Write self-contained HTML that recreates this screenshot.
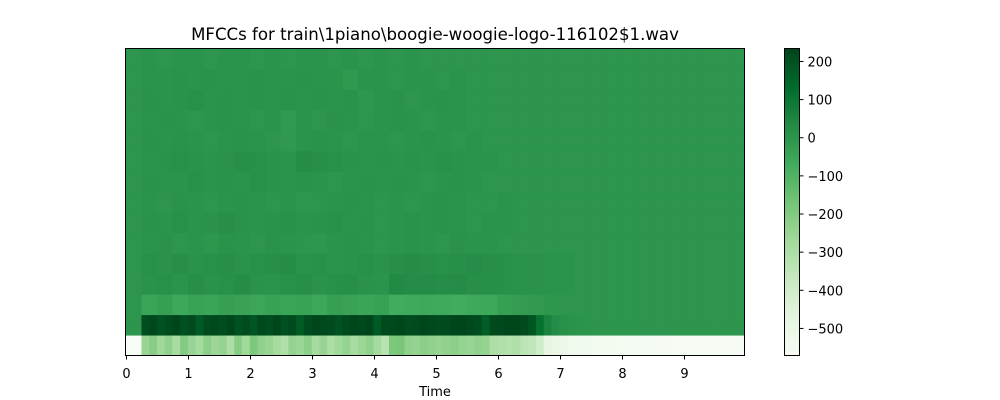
<!DOCTYPE html>
<html><head><meta charset="utf-8"><style>
body{margin:0;background:#fff;}
svg{display:block;font-family:"DejaVu Sans","Liberation Sans",sans-serif;}
</style></head><body>
<svg id="chart" width="1000" height="400">
<text x="435" y="40" font-size="16.6" text-anchor="middle">MFCCs for train\1piano\boogie-woogie-logo-116102$1.wav</text>
<g id="heat"></g>
<rect x="125.5" y="48.5" width="619" height="307" fill="none" stroke="#000" stroke-width="1"/>
<g id="xaxis"></g>
<text x="435" y="396" font-size="13" text-anchor="middle">Time</text>
<g id="cbar"></g>
</svg>
<script>
const duration = 9.98;
const nRows = 15;
const vmin = -571, vmax = 234;
const xTicks = [0,1,2,3,4,5,6,7,8,9];
const cbTicks = [200,100,0,-100,-200,-300,-400,-500];
const cbLabels = ["200","100","0","\u2212100","\u2212200","\u2212300","\u2212400","\u2212500"];
// rows from bottom (coef 0) upward
const row0 = [-570,-570,
-250,-210,-270,-230,-290,-200,-250,-280,-220,-260,-240,-300,-210,-270,-190,-230,-250,-280,-310,-240,-260,-220,-280,-250,-300,-270,-240,-290,-260,-230,-280,-330,
-190,-180,
-230,-240,-220,-230,-240,-230,-220,-240,-250,-230,-240,
-300,-310,-320,-310,-340,-350,-400,
-480,-500,-520,-530,-540,-540,-545,-550,-550,-550,-555,-555,-555,-560,-560,-560,-560,-565,-565,-565,-565,-565,-565,-565,-565,-565];
const row1 = [0,0,
210,225,200,215,230,205,220,180,215,225,210,230,200,215,190,225,210,230,205,220,175,215,230,225,215,200,220,230,225,230,180,220,225,230,215,220,230,225,215,220,230,230,225,215,170,220,225,230,230,220,190,
120,60,30,15,8,5,3,0,0,0,0,0,0,0,0,0,0,0,0,0,0,0,0,0,0,0,0];
const row2 = [0,-45,-30,-55,-40,-45,-30,-40,-50,-35,-45,-40,-55,-30,-40,-45,-35,-70,-65,-60,-65,-70,-60,-55,-30,-20,-15,-5,0,0,0,0,0,0,0,0,0,0,0,0];
const row3 = [0,10,15,5,20,10,15,25,10,5,15,20,10,15,20,10,5,35,30,30,25,30,20,20,15,10,10,5,5,0,0,0,0,0,0,0,0,0,0,0];
const row4 = [0,15,10,20,10,15,20,10,15,20,25,10,15,5,10,15,10,20,25,20,15,20,25,20,15,10,10,5,5,0,0,0,0,0,0,0,0,0,0,0];
const row5 = [0,5,10,0,5,-5,10,5,0,10,5,0,-5,5,10,5,0,5,10,5,0,10,5,5,0,0,0,0,0,0,0,0,0,0,0,0,0,0,0,0];
const row6 = [0,10,5,15,5,10,20,10,5,10,15,5,10,15,5,10,0,5,10,5,10,5,0,5,5,0,0,0,0,0,0,0,0,0,0,0,0,0,0,0];
const row7 = [0,5,0,10,5,0,5,10,5,0,5,-5,0,5,10,5,0,5,0,5,10,5,0,0,5,0,0,0,0,0,0,0,0,0,0,0,0,0,0,0];
const row8 = [0,10,5,5,15,5,10,5,15,10,5,10,5,0,5,10,5,10,5,0,5,10,5,0,0,0,0,0,0,0,0,0,0,0,0,0,0,0,0,0];
const row9 = [0,5,10,15,10,5,10,20,15,10,5,25,20,15,10,5,10,5,10,5,15,10,5,5,0,0,0,0,0,0,0,0,0,0,0,0,0,0,0,0];
const row10 = [0,10,5,10,5,0,5,10,5,0,-10,5,10,5,0,5,5,0,5,10,5,0,5,0,0,0,0,0,0,0,0,0,0,0,0,0,0,0,0,0];
const row11 = [0,5,10,5,0,5,10,5,0,5,-15,5,0,10,5,0,5,10,5,0,5,5,0,0,0,0,0,0,0,0,0,0,0,0,0,0,0,0,0,0];
const row12 = [0,10,5,10,15,5,10,5,10,5,10,5,10,5,10,-5,5,10,0,5,10,5,0,0,0,0,0,0,0,0,0,0,0,0,0,0,0,0,0,0];
const row13 = [0,5,5,10,5,10,5,5,10,5,5,10,5,5,-10,5,5,0,5,5,0,5,0,0,0,0,0,0,0,0,0,0,0,0,0,0,0,0,0,0];
const row14 = [0,5,0,5,5,0,5,5,0,5,0,5,5,0,5,0,5,0,5,0,0,0,0,0,0,0,0,0,0,0,0,0,0,0,0,0,0,0,0,0];
const rows = [row0,row1,row2,row3,row4,row5,row6,row7,row8,row9,row10,row11,row12,row13,row14];

const stops = ["#f7fcf5","#e5f5e0","#c7e9c0","#a1d99b","#74c476","#41ab5d","#238b45","#006d2c","#00441b"];
function hex(h){return [1,3,5].map(i=>parseInt(h.substr(i,2),16));}
const stopRGB = stops.map(hex);
function color(v){
  let t=(v-vmin)/(vmax-vmin); t=Math.max(0,Math.min(1,t));
  const p=t*8, i=Math.min(7,Math.floor(p)), f=p-i;
  const a=stopRGB[i], b=stopRGB[i+1];
  return "rgb("+a.map((c,k)=>Math.round(c+(b[k]-c)*f)).join(",")+")";
}
const L=125.5, R=744.5, T=48.5, B=355.5;
const xs = t => 126 + t*62;
const rowY = i => B - (i+1)*(B-T)/nRows;
const NS="http://www.w3.org/2000/svg";
function mk(tag,attrs,parent){const e=document.createElementNS(NS,tag);for(const k in attrs)e.setAttribute(k,attrs[k]);parent.appendChild(e);return e;}
const heat=document.getElementById('heat');
rows.forEach((r,i)=>{
  const w=duration/r.length;
  r.forEach((v,j)=>{
    const x0=Math.max(L,xs(j*w));
    let x1=Math.min(R,xs((j+1)*w));
    if(j===r.length-1) x1=R;
    const c=mk('rect',{x:x0,y:rowY(i),width:Math.max(0,x1-x0+0.5),height:(B-T)/nRows+0.5,fill:color(v)},heat);
    
    
  });
});
const xa=document.getElementById('xaxis');
xTicks.forEach(t=>{
  const x=Math.round(xs(t))+0.5;
  const l=mk('line',{x1:x,x2:x,y1:B,y2:B+4,stroke:'#000'},xa);
  
  
  const tx=mk('text',{x:x,y:378,'font-size':13,'text-anchor':'middle'},xa);
  tx.textContent=t;
  
  
});
const cb=document.getElementById('cbar');
const cL=784.5,cR=799.5;
const cy=v=>B-(v-vmin)/(vmax-vmin)*(B-T);
for(let k=0;k<307;k++){
  const v=vmin+(k+0.5)/307*(vmax-vmin);
  mk('rect',{x:cL,y:B-k-1,width:cR-cL,height:1.2,fill:color(v)},cb);
}
const fr=mk('rect',{x:cL,y:T,width:cR-cL,height:B-T,fill:'none',stroke:'#000'},cb);


cbTicks.forEach((v,i)=>{
  const y=cy(v);
  mk('line',{x1:cR,x2:cR+4,y1:y,y2:y,stroke:'#000'},cb);
  const tx=mk('text',{x:cR+8,y:y+5,'font-size':13},cb);
  tx.textContent=cbLabels[i];
  
  
});
</script>
</body></html>
